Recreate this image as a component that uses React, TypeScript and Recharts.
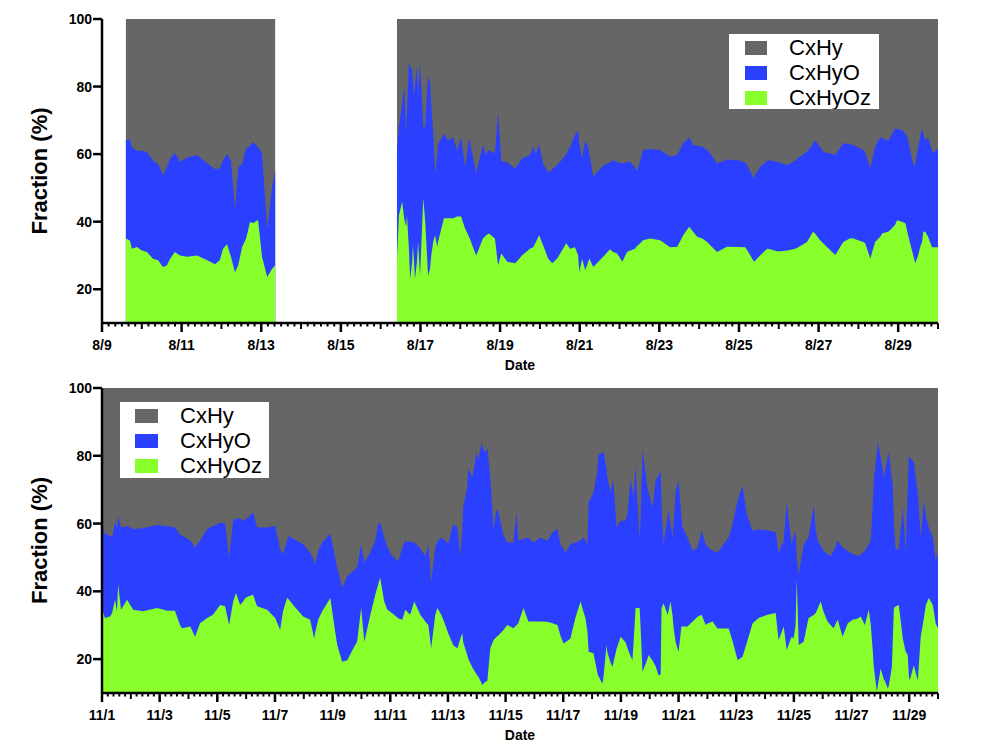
import React from "react";
import { AreaChart, Area, XAxis, YAxis } from "recharts";

const GREY = "#666666";
const BLUE = "#2b3fff";
const GREEN = "#88ff2b";
const FONT = '"Liberation Sans", Arial, sans-serif';

// August: time as fractional day of month; oTop = upper edge of the CxHyO band
// (CxHyOz + CxHyO), oz = CxHyOz. The null row is the gap with no data.
const augT = [
  9.6, 9.7, 9.75, 9.88, 10.0, 10.13, 10.28, 10.41,
  10.53, 10.63, 10.71, 10.83, 10.96, 11.14, 11.39, 11.64,
  11.84, 11.96, 12.04, 12.14, 12.24, 12.34, 12.42, 12.52,
  12.62, 12.72, 12.79, 12.92, 13.02, 13.15, 13.27, 13.35,
  14.9,
  16.41, 16.46, 16.54, 16.59, 16.64, 16.66, 16.71, 16.74,
  16.79, 16.81, 16.84, 16.86, 16.91, 16.94, 16.99, 17.07,
  17.12, 17.19, 17.24, 17.27, 17.32, 17.37, 17.42, 17.44,
  17.59, 17.69, 17.82, 17.92, 18.02, 18.12, 18.22, 18.4,
  18.57, 18.65, 18.72, 18.87, 18.95, 19.03, 19.18, 19.38,
  19.55, 19.75, 19.83, 19.9, 19.98, 20.08, 20.21, 20.31,
  20.43, 20.58, 20.66, 20.76, 20.88, 20.96, 20.99, 21.06,
  21.14, 21.21, 21.24, 21.34, 21.59, 21.76, 21.84, 21.94,
  22.07, 22.19, 22.27, 22.39, 22.44, 22.52, 22.59, 22.77,
  23.02, 23.27, 23.45, 23.6, 23.75, 23.85, 23.95, 24.08,
  24.2, 24.28, 24.45, 24.7, 24.98, 25.16, 25.21, 25.28,
  25.36, 25.38, 25.53, 25.71, 25.78, 25.98, 26.21, 26.41,
  26.46, 26.71, 26.86, 26.91, 27.04, 27.12, 27.42, 27.62,
  27.79, 27.87, 28.12, 28.17, 28.3, 28.42, 28.55, 28.6,
  28.75, 28.8, 28.92, 28.97, 29.1, 29.18, 29.25, 29.3,
  29.4, 29.43, 29.5, 29.55, 29.6, 29.63, 29.68, 29.73,
  29.75, 29.85, 29.88, 30.0,
];
const augOTop = [
  64, 64.5, 62, 61, 61, 60.6, 58, 57,
  53.8, 56, 58.7, 60.3, 57.7, 59, 59.7, 57.3,
  55.5, 55.8, 58, 60, 58, 43.4, 56, 57,
  61.7, 62.5, 63.6, 62, 60.2, 37.5, 50, 55.2,
  null,
  61, 68, 75, 80, 66, 72, 87, 86,
  85, 82, 77, 80, 86, 78, 87, 68,
  68, 83, 81, 75, 66, 54, 60, 63,
  66, 64, 65, 61, 65, 56, 64.7, 54.3,
  62.7, 59.7, 61.2, 60.2, 72.5, 58, 57.5, 55.7,
  58.7, 59.7, 62.2, 60.2, 62.9, 57.2, 54.5, 55.5,
  56.7, 58.7, 60, 62.2, 65.6, 67.1, 63, 58.7,
  64.1, 62.2, 60, 53.3, 56.7, 57.5, 58.2, 57.7,
  57.2, 57.7, 57.7, 56, 55, 58, 61.2, 61.5,
  61.2, 59.2, 59.7, 63.2, 64.9, 62.7, 62.5, 62.2,
  61.2, 60.2, 57.2, 58.4, 58.2, 57.5, 56.7, 55,
  52.8, 53.5, 56.2, 58, 58.2, 57.7, 56.7, 58,
  58.7, 60.7, 63, 64.1, 62, 60.7, 59.7, 63.2,
  62.9, 62.7, 61.2, 60.5, 55.9, 62.2, 65.1, 64.8,
  63.9, 65, 67.6, 67.5, 67.1, 66, 64.1, 61,
  56.2, 57, 62.2, 65, 67.6, 66, 64.1, 64.5,
  65.1, 61, 60.2, 61.7,
];
const augOz = [
  35, 34.4, 32, 32.5, 31.5, 31, 29, 28.6,
  26.6, 27, 29, 31, 30, 29.6, 30, 28.6,
  27.4, 28.6, 32, 33.3, 29.6, 25, 27, 32.5,
  35, 40, 39.5, 40.5, 29.6, 23.6, 26, 27,
  null,
  29, 42, 46, 41, 38.5, 42, 32, 23,
  28, 33, 28, 23, 28, 34, 24, 47,
  40, 24, 26, 30, 34, 36, 32.5, 34,
  41, 41, 41, 41.5, 41.5, 38, 35.5, 30,
  35, 36, 36.5, 35, 27, 30.6, 28.1, 27.7,
  30, 32, 32.4, 34, 36, 33, 29, 27.7,
  29, 32, 33.6, 32, 32.4, 30, 25.1, 29,
  25.6, 28, 29.1, 26.6, 29.6, 31.8, 31, 30.6,
  28.1, 31, 31.5, 32, 32.8, 33.6, 34.5, 35,
  34.5, 32.4, 32.6, 36, 38.5, 37, 35.5, 35,
  34, 33, 31, 32.6, 32.5, 32.4, 31.5, 30.1,
  28.5, 28.1, 30, 32, 31.8, 31.2, 31.5, 32,
  32.2, 34, 37, 36.5, 34.5, 33.5, 30.1, 34,
  35.1, 35, 34, 33.6, 29.1, 34, 35.5, 36.6,
  37, 37.5, 39, 40.4, 40, 39.5, 36, 33.6,
  29, 27.7, 30, 32.4, 34, 37, 37, 36,
  35.5, 32.4, 32.4, 32.4,
];

// November, same layout
const novT = [
  1.0, 1.1, 1.28, 1.35, 1.45, 1.52, 1.56, 1.66,
  1.87, 2.08, 2.42, 2.91, 3.26, 3.53, 3.71, 3.78,
  4.06, 4.23, 4.4, 4.65, 4.85, 5.1, 5.27, 5.41,
  5.55, 5.65, 5.79, 5.9, 5.97, 6.07, 6.24, 6.38,
  6.73, 7.01, 7.18, 7.28, 7.42, 7.49, 7.63, 7.98,
  8.22, 8.36, 8.4, 8.5, 8.64, 8.92, 9.09, 9.16,
  9.33, 9.51, 9.72, 9.85, 9.99, 10.1, 10.31, 10.48,
  10.58, 10.65, 10.79, 10.9, 11.07, 11.28, 11.42, 11.52,
  11.69, 11.83, 11.97, 12.04, 12.22, 12.32, 12.42, 12.56,
  12.63, 12.74, 12.84, 12.91, 13.01, 13.19, 13.33, 13.43,
  13.5, 13.53, 13.67, 13.71, 13.85, 13.99, 14.06, 14.16,
  14.19, 14.26, 14.37, 14.47, 14.58, 14.68, 14.75, 14.92,
  15.06, 15.27, 15.38, 15.44, 15.62, 15.79, 15.97, 16.21,
  16.45, 16.63, 16.8, 16.9, 17.01, 17.08, 17.25, 17.42,
  17.6, 17.7, 17.77, 17.84, 17.88, 18.05, 18.19, 18.22,
  18.36, 18.4, 18.5, 18.53, 18.64, 18.71, 18.74, 18.85,
  18.99, 19.16, 19.23, 19.33, 19.4, 19.44, 19.51, 19.58,
  19.65, 19.68, 19.75, 19.92, 19.96, 20.1, 20.2, 20.31,
  20.38, 20.41, 20.48, 20.62, 20.65, 20.72, 20.79, 20.83,
  20.9, 21.0, 21.1, 21.14, 21.31, 21.49, 21.66, 21.8,
  21.94, 22.01, 22.18, 22.35, 22.56, 22.74, 22.88, 23.05,
  23.22, 23.36, 23.57, 23.78, 24.09, 24.37, 24.47, 24.65,
  24.75, 24.92, 24.99, 25.06, 25.1, 25.17, 25.34, 25.51,
  25.69, 25.76, 25.83, 25.93, 26.03, 26.17, 26.28, 26.38,
  26.52, 26.69, 26.87, 27.04, 27.22, 27.32, 27.46, 27.6,
  27.67, 27.74, 27.77, 27.88, 27.91, 28.01, 28.12, 28.15,
  28.26, 28.29, 28.4, 28.43, 28.47, 28.53, 28.64, 28.78,
  28.88, 28.95, 28.99, 29.02, 29.16, 29.3, 29.4, 29.51,
  29.58, 29.68, 29.82, 29.92, 30.0,
];
const novOTop = [
  59.3, 56.9, 56.5, 55.9, 60.3, 58.8, 62.3, 58.8,
  59.3, 58.4, 58.6, 59.6, 59.2, 58.8, 56.7, 56.5,
  55, 52.9, 54.9, 58.4, 59.3, 60.3, 60, 49.9,
  60.8, 61.5, 61.5, 60.8, 61.2, 61.8, 63.3, 58.8,
  58.8, 59.3, 52.4, 50.9, 55, 56.4, 55.5, 53.9,
  51.4, 49, 48, 51.9, 54.5, 56.9, 49.9, 47,
  41, 44.5, 46, 47, 53.9, 48.4, 51.5, 55,
  59.9, 60.3, 56, 52.9, 50.4, 48.9, 53, 54.9,
  54.6, 54.4, 53.4, 52.5, 50.4, 53.9, 42.5, 52.9,
  54.5, 55.9, 55.4, 54.9, 53.9, 59.9, 58.8, 50.4,
  58, 64.8, 70.7, 76.2, 73.7, 81.1, 78.8, 83.6,
  83, 81.1, 82.1, 73.7, 57.9, 64.3, 63.3, 56.9,
  54.4, 54.4, 63.3, 54.9, 55.5, 55.9, 54.4, 55.9,
  54.9, 57.4, 58.4, 53.9, 52.5, 51.4, 53.9, 54.5,
  55, 55.9, 55, 53.9, 66.3, 69.2, 76, 80.2,
  81, 81.1, 76, 73.7, 69.2, 72, 72.7, 58.8,
  60.8, 60.8, 63, 72.7, 70, 67.8, 77.2, 65,
  55.9, 60, 81.6, 70.7, 69, 64.8, 72.7, 74.2,
  75.7, 65, 53.9, 62, 64.3, 60, 55.9, 60,
  69.8, 72.7, 62, 58.8, 55.9, 51.9, 52.9, 57.9,
  54, 52.9, 52, 51.4, 53.9, 55.9, 60, 66.8,
  71.2, 62.8, 57.9, 58.3, 58, 57.4, 51.4, 55,
  66.3, 53.9, 56, 57.9, 50, 45, 53.9, 55.9,
  65.3, 58, 54.9, 53.5, 51.9, 51, 50.4, 52,
  54.9, 53, 51.9, 51, 50.4, 50.8, 51.9, 54,
  54.9, 66, 72.7, 81, 84.1, 79.7, 73.7, 75,
  80, 81.1, 73, 71.7, 60, 52.4, 52.4, 64.8,
  51.4, 70, 80.2, 79.5, 78.2, 68.8, 55.9, 66.8,
  62, 58.8, 55.9, 48.9, 51.4,
];
const novOz = [
  35.1, 32.1, 32.6, 33.5, 37.5, 34.1, 42, 34.6,
  37.5, 34.6, 34.1, 35.1, 34.3, 34.3, 30, 29.1,
  29.6, 26.6, 30.6, 32.1, 33.1, 36, 35.6, 30.1,
  37, 39.5, 36, 37, 38, 38.5, 39, 35.6,
  34.6, 32.1, 28.6, 34.1, 38, 37.5, 36, 32.6,
  31.6, 26.1, 28, 31.6, 34.1, 38, 28, 24.2,
  19.2, 19.7, 23.2, 25.1, 35.1, 25.1, 33.1, 39,
  42, 44, 37, 34.6, 33.5, 32, 31.6, 34.6,
  33.1, 37, 34.5, 33.1, 31, 30.1, 23.2, 33,
  35.1, 33.5, 31.6, 30, 27.6, 24, 23.2, 26,
  27.6, 25, 21.2, 20, 17.5, 15.5, 14.7, 13,
  12.3, 13, 13.7, 23.2, 25.6, 26.5, 27, 28.5,
  30.1, 29.1, 30, 30.6, 35.1, 31.1, 31.1, 31.1,
  31, 30.6, 30.1, 27, 24.6, 25, 26.1, 32.1,
  37, 34, 32.1, 28, 22.2, 21.7, 15.7, 15,
  12.7, 15, 24.2, 22, 19, 17.7, 19, 23,
  26.6, 25, 23.2, 21, 19.7, 25, 35.1, 35.1,
  35.1, 30, 16.2, 20, 21.2, 19.5, 18, 15.2,
  15.5, 35, 36.5, 33.1, 34, 37, 33, 29.1,
  25, 22.2, 29.6, 29.6, 29.6, 31.1, 32.5, 33.1,
  30.1, 30.5, 31.1, 29, 29, 29, 25.1, 19.7,
  20.7, 24.6, 30.6, 32.1, 33.1, 33.6, 25.6, 29.6,
  22.7, 26.6, 26.1, 30, 43.5, 24.2, 25.1, 32.1,
  33, 33.6, 35, 37, 34, 31.1, 30, 29.1,
  31.6, 26.6, 30.6, 31.6, 32, 32.6, 30.1, 34.6,
  30, 22.2, 18, 10.3, 12, 17.2, 14, 13.7,
  11.3, 12, 17.7, 25, 35.1, 35.5, 36, 26,
  22.2, 21.2, 15, 13.7, 18.2, 13.7, 26.6, 32,
  36, 38, 36, 30.5, 29.1,
];

const augTickLabels = ["8/9", "8/11", "8/13", "8/15", "8/17", "8/19", "8/21", "8/23", "8/25", "8/27", "8/29"];
const novTickLabels = ["11/1", "11/3", "11/5", "11/7", "11/9", "11/11", "11/13", "11/15", "11/17", "11/19", "11/21", "11/23", "11/25", "11/27", "11/29"];
const yTicks = [20, 40, 60, 80, 100];
const seriesNames = ["CxHy", "CxHyO", "CxHyOz"];
const seriesColors = [GREY, BLUE, GREEN];

function buildRows(t: number[], oTop: (number | null)[], oz: (number | null)[]) {
  return t.map((d, i) => ({
    t: d,
    CxHy: oTop[i] == null ? null : 100,
    CxHyO: oTop[i],
    CxHyOz: oz[i],
  }));
}

function DateTick(props: any) {
  const { x, y, payload, start, perDay, labels } = props;
  const k = Math.round((payload.value - start) * perDay);
  const major = k % (2 * perDay) === 0;
  const day = k % perDay === 0;
  const len = major ? 9 : day ? 6 : 3.5;
  return (
    <g>
      <line x1={x} x2={x} y1={y} y2={y + len} stroke="#000" strokeWidth={major ? 2.5 : 2} />
      {major && (
        <text x={x} y={y + 27} textAnchor="middle" fontSize={14} fontWeight="bold" fontFamily={FONT} fill="#000">
          {labels[k / (2 * perDay)]}
        </text>
      )}
    </g>
  );
}

function LegendBox({ left, top, w, h, sqX, sqW, textX }: any) {
  return (
    <svg style={{ position: "absolute", left, top }} width={w} height={h}>
      <rect x={0} y={0} width={w} height={h} fill="#fff" />
      {seriesNames.map((name, i) => (
        <g key={name}>
          <rect x={sqX} y={7 + i * 25} width={sqW} height={14} fill={seriesColors[i]} />
          <text x={textX} y={21 + i * 25} fontSize={22} fontFamily={FONT} fill="#000">
            {name}
          </text>
        </g>
      ))}
    </svg>
  );
}

function Panel({ rows, start, end, perDay, labels, height, marginTop, plotH }: any) {
  const ticks: number[] = [];
  for (let k = 0; start + k / perDay <= end + 1e-6; k++) ticks.push(start + k / perDay);
  return (
    <AreaChart
      width={988}
      height={height}
      data={rows}
      margin={{ top: marginTop, right: 50, bottom: height - marginTop - plotH - 30, left: 42 }}
    >
      <Area dataKey="CxHy" type="linear" fill={GREY} fillOpacity={1} stroke="none" isAnimationActive={false} />
      <Area dataKey="CxHyO" type="linear" fill={BLUE} fillOpacity={1} stroke="none" isAnimationActive={false} />
      <Area dataKey="CxHyOz" type="linear" fill={GREEN} fillOpacity={1} stroke="none" isAnimationActive={false} />
      <XAxis
        dataKey="t"
        type="number"
        domain={[start, end]}
        ticks={ticks}
        interval={0}
        height={30}
        tickSize={0}
        tickMargin={0}
        tickLine={false}
        axisLine={{ stroke: "#000", strokeWidth: 2.5 }}
        tick={(p: any) => <DateTick {...p} start={start} perDay={perDay} labels={labels} />}
        label={(p: any) => {
          const vb = p.viewBox;
          return (
            <text x={vb.x + vb.width / 2} y={vb.y + 47} textAnchor="middle" fontSize={14} fontWeight="bold" fontFamily={FONT} fill="#000">
              Date
            </text>
          );
        }}
      />
      <YAxis
        type="number"
        domain={[10, 100]}
        ticks={yTicks}
        width={60}
        tickSize={9}
        tickMargin={1}
        axisLine={{ stroke: "#000", strokeWidth: 2.5 }}
        tickLine={{ stroke: "#000", strokeWidth: 2.5 }}
        tick={{ fill: "#000", fontSize: 14, fontWeight: "bold", fontFamily: FONT }}
        label={(p: any) => {
          const vb = p.viewBox;
          const cx = 39;
          const cy = vb.y + vb.height / 2;
          return (
            <text x={cx} y={cy} transform={`rotate(-90 ${cx} ${cy})`} textAnchor="middle" dominantBaseline="central" fontSize={22} fontWeight="bold" fontFamily={FONT} fill="#000">
              Fraction (%)
            </text>
          );
        }}
      />
    </AreaChart>
  );
}

export default function App() {
  const augRows = buildRows(augT, augOTop, augOz);
  const novRows = buildRows(novT, novOTop, novOz);
  return (
    <div style={{ position: "absolute", left: 0, top: 0, width: 988, height: 755, background: "#fff", fontFamily: FONT }}>
      <div style={{ position: "absolute", left: 0, top: 0 }}>
        <Panel rows={augRows} start={9} end={30} perDay={6} labels={augTickLabels} height={380} marginTop={19} plotH={304} />
      </div>
      <div style={{ position: "absolute", left: 0, top: 370 }}>
        <Panel rows={novRows} start={1} end={30} perDay={5} labels={novTickLabels} height={385} marginTop={18} plotH={305} />
      </div>
      <LegendBox left={729} top={34} w={150} h={75} sqX={16} sqW={22} textX={60} />
      <LegendBox left={120} top={402} w={149} h={76} sqX={15} sqW={23} textX={60} />
    </div>
  );
}
